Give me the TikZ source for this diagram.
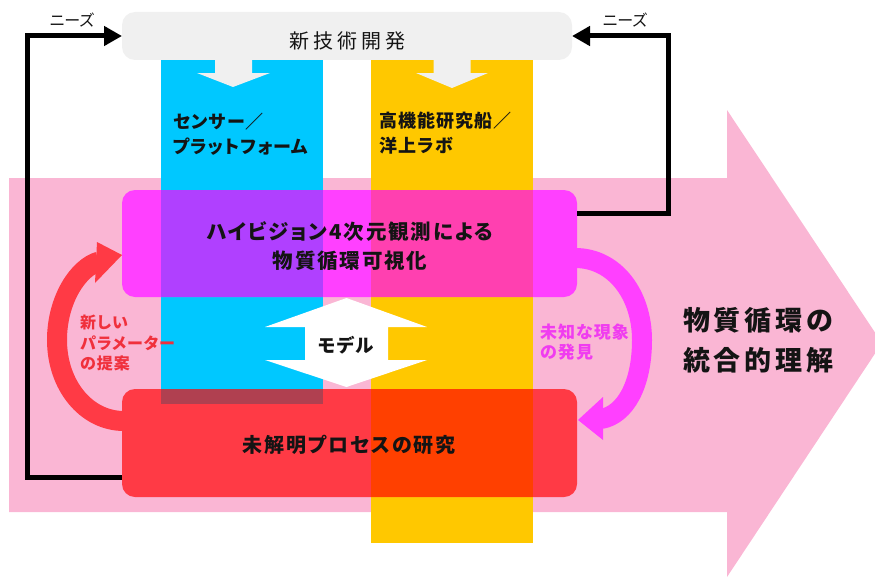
\documentclass[tikz,border=0pt]{standalone}
\usepackage{fontspec}
\usetikzlibrary{arrows.meta,calc}
\newfontfamily\jp[RawFeature=+palt]{Noto Sans CJK JP}
\newfontfamily\jpS[RawFeature=+palt,LetterSpace=6]{Noto Sans CJK JP}
\newfontfamily\jpM[RawFeature=+palt,LetterSpace=9]{Noto Sans CJK JP}
\newfontfamily\jpW[RawFeature=+palt,LetterSpace=14]{Noto Sans CJK JP}
\newfontfamily\jpT[LetterSpace=20]{Noto Sans CJK JP}
\definecolor{bgpink}{RGB}{250,182,212}
\definecolor{techgray}{RGB}{240,240,240}
\definecolor{cyancol}{RGB}{0,200,255}
\definecolor{yellowcol}{RGB}{255,200,0}
\definecolor{magbox}{RGB}{255,64,255}
\definecolor{magcyan}{RGB}{176,64,255}
\definecolor{magyellow}{RGB}{255,64,176}
\definecolor{redbox}{RGB}{255,58,69}
\definecolor{redyellow}{RGB}{255,64,0}
\definecolor{redcyan}{RGB}{176,64,80}
\definecolor{redtext}{RGB}{240,48,60}
\definecolor{magtext}{RGB}{240,60,240}
\definecolor{ink}{RGB}{20,20,20}
\begin{document}
\begin{tikzpicture}[x=1pt,y=-1pt,
  box/.style={rounded corners=13pt, inner sep=0pt, outer sep=0pt},
  need/.style={line width=5pt, -{Triangle[length=18pt,width=19pt]}},
  txt/.style={inner sep=0pt, text=ink},
]
\useasboundingbox (0,0) rectangle (875,578);
% big pink arrow
\fill[bgpink] (9,178) -- (727,178) -- (727,110) -- (882,343) -- (727,577) -- (727,512) -- (9,512) -- cycle;
% columns
\fill[cyancol] (161,60) rectangle (323,404);
\fill[yellowcol] (371,60) rectangle (533,543);
% new technology box
\node[box, fill=techgray, minimum width=450pt, minimum height=48pt] (tech) at (347,36) {};
\fill[techgray] (215,59) -- (215,73) -- (197,73) -- (233,87) -- (270,73) -- (252,73) -- (252,59) -- cycle;
\fill[techgray] (433.5,59) -- (433.5,73) -- (416,73) -- (452,88) -- (488,73) -- (470.5,73) -- (470.5,59) -- cycle;
% visualisation box
\node[box, fill=magbox, minimum width=455pt, minimum height=107pt] (vis) at (349.5,243.5) {};
\fill[magcyan] (161,190) rectangle (323,297);
\fill[magyellow] (371,190) rectangle (533,297);
% research box
\node[box, fill=redbox, minimum width=455pt, minimum height=108pt] (res) at (349.5,443) {};
\fill[redcyan] (161,389) rectangle (323,404);
\fill[redyellow] (371,389) rectangle (533,497);
% model double arrow
\fill[white] (346.5,298) -- (427,327) -- (388,327) -- (388,360) -- (427,360) -- (346.5,387)
  -- (265,360) -- (305,360) -- (305,327) -- (265,327) -- cycle;
% needs connectors
\draw[need] ($(res.west)+(0,34)$) -| ($(tech.west)+(-95,0)$) -- (tech.west);
\draw[need] ($(vis.east)+(0,-30.5)$) -| ($(tech.east)+(96,0)$) -- (tech.east);
% curved arrows
\draw[redbox, line width=20pt] ($(res.west)+(2,-22)$) .. controls (86,421) and (57,385) .. (57,340)
  .. controls (57,300) and (78,267.5) .. (99,261.5);
\fill[redbox] (122,255) -- (97,242) -- (95,283) -- cycle;
\draw[magbox, line width=20pt] ($(vis.east)+(-2,14.5)$) .. controls (615,258) and (642,295) .. (642,340)
  .. controls (642,385) and (625,415) .. (601,419);
\fill[magbox] (578,420) -- (603,397) -- (603,440) -- cycle;
% texts
\node[txt, font=\jpT\fontsize{20pt}{24pt}\selectfont] (techlabel) at (347,41) {新技術開発};
\node[txt, anchor=west, align=left, font=\jpS\bfseries\fontsize{18pt}{25pt}\selectfont] (sensor) at (173,134) {センサー／\\プラットフォーム};
\node[txt, anchor=west, align=left, font=\jpS\bfseries\fontsize{18pt}{25pt}\selectfont] (ship) at (379,133) {高機能研究船／\\洋上ラボ};
\node[txt, align=center, font=\jpM\bfseries\fontsize{20.5pt}{29pt}\selectfont] (vislabel) at (350,246) {ハイビジョン4次元観測による\\物質循環可視化};
\node[txt, font=\jpS\bfseries\fontsize{18.5pt}{22pt}\selectfont] (model) at (346,345) {モデル};
\node[txt, font=\jpM\bfseries\fontsize{20pt}{24pt}\selectfont] (reslabel) at (349,445) {未解明プロセスの研究};
\node[txt, text=redtext, anchor=west, align=left, font=\jpS\bfseries\fontsize{16pt}{20.5pt}\selectfont] (param) at (80,343) {新しい\\パラメーター\\の提案};
\node[txt, text=magtext, anchor=west, align=left, font=\jpS\bfseries\fontsize{17pt}{20pt}\selectfont] (unknown) at (540,342) {未知な現象\\の発見};
\node[txt, anchor=west, align=left, font=\jpW\bfseries\fontsize{27pt}{40pt}\selectfont] (goal) at (683,340) {物質循環の\\統合的理解};
\node[txt, font=\jp\fontsize{16pt}{18pt}\selectfont] (needL) at (72,20) {ニーズ};
\node[txt, font=\jp\fontsize{16pt}{18pt}\selectfont] (needR) at (625,20) {ニーズ};
\end{tikzpicture}
\end{document}
